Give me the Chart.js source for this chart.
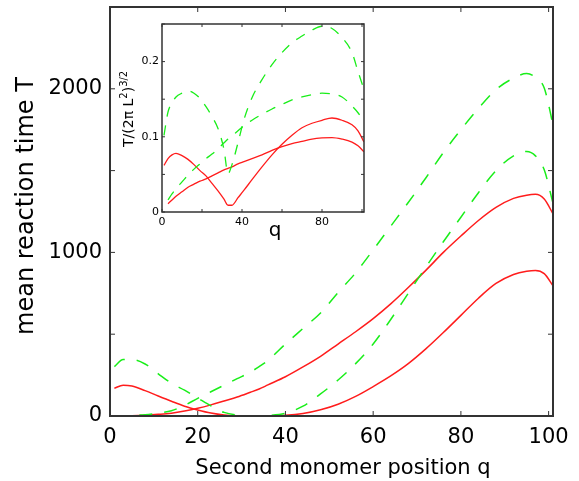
<!DOCTYPE html>
<html>
<head>
<meta charset="utf-8">
<script src="https://cdn.jsdelivr.net/npm/chart.js@4.4.1/dist/chart.umd.min.js"></script>
<style>
  html, body { margin: 0; padding: 0; background: #fff; }
  #wrap { position: relative; width: 579px; height: 481px; }
  #main { position: absolute; left: 0; top: 0; }
  #inset { position: absolute; left: 115px; top: 10px; }
</style>
</head>
<body>
<div id="wrap">
  <canvas id="main" width="579" height="481"></canvas>
  <canvas id="inset" width="260" height="235"></canvas>
</div>
<script>
// main panel: mean reaction time T against second monomer position q
const qMain = [1, 3, 5, 8, 11, 14, 17, 20, 23, 26, 29, 32, 34, 36, 40, 44,
  48, 52, 56, 60, 64, 68, 72, 76, 80, 84, 88, 92, 95, 97, 99, 101];
const redCuspMain = [170, 188, 183, 155, 122, 90, 60, 37, 18, 6, 1, 0, 0, 1, 4, 15,
  38, 72, 120, 180, 245, 320, 410, 510, 615, 720, 810, 865, 885, 890, 870, 796];
const redRiseMain = [0, 1, 2, 5, 10, 17, 30, 47, 68, 92, 116, 145, 165, 190, 240, 300,
  365, 440, 515, 595, 685, 785, 890, 1000, 1100, 1195, 1275, 1330, 1350, 1355, 1326, 1236];
const greenCuspMain = [302, 345, 345, 318, 258, 200, 158, 110, 62, 22, 5, 0, 0, 3, 17, 60,
  135, 220, 320, 440, 590, 750, 910, 1065, 1215, 1365, 1500, 1590, 1617, 1590, 1505, 1300];
const greenRiseMain = [0, 1, 3, 8, 18, 32, 65, 108, 148, 188, 228, 268, 302, 340, 440, 535,
  630, 755, 875, 1015, 1160, 1305, 1455, 1610, 1750, 1880, 1995, 2065, 2093, 2070, 2005, 1781];

const xTicks = [0, 20, 40, 60, 80, 100];
const yTicks = [0, 1000, 2000];
const yMarks = [0, 500, 1000, 1500, 2000, 2500];

// inset: T / (2π L²)^(3/2)
const qInset = [1, 3, 5, 7, 10, 13, 16, 19, 22, 25, 28, 31, 33, 35, 38, 41, 45,
  50, 55, 60, 65, 70, 75, 80, 85, 90, 95, 98, 101];
const redCuspInset = [0.062, 0.071, 0.076, 0.078, 0.075, 0.070, 0.063, 0.055, 0.048, 0.038,
  0.028, 0.017, 0.009, 0.009, 0.019, 0.029, 0.043, 0.060, 0.076, 0.090, 0.102, 0.112,
  0.118, 0.122, 0.125, 0.122, 0.116, 0.108, 0.093];
const redRiseInset = [null, 0.011, 0.016, 0.021, 0.027, 0.033, 0.037, 0.041, 0.044, 0.048,
  0.052, 0.056, 0.058, 0.060, 0.064, 0.067, 0.071, 0.076, 0.082, 0.087, 0.091, 0.094,
  0.097, 0.0985, 0.099, 0.097, 0.093, 0.088, 0.080];
const greenCuspInset = [0.102, 0.133, 0.145, 0.153, 0.158, 0.161, 0.158, 0.151, 0.140, 0.127,
  0.111, 0.083, 0.051, 0.063, 0.092, 0.123, 0.152, 0.176, 0.196, 0.212, 0.225, 0.234,
  0.242, 0.247, 0.244, 0.232, 0.212, 0.187, 0.163];
const greenRiseInset = [null, 0.016, 0.024, 0.031, 0.040, 0.049, 0.057, 0.064, 0.071, 0.077,
  0.084, 0.092, 0.097, 0.101, 0.108, 0.115, 0.122, 0.130, 0.137, 0.143, 0.149, 0.153,
  0.156, 0.158, 0.157, 0.153, 0.141, 0.132, 0.120];

const insetXTicks = [0, 40, 80];
const insetXMarks = [0, 20, 40, 60, 80, 100];
const insetYTicks = [0, 0.1, 0.2];
const insetYMarks = [0, 0.05, 0.1, 0.15, 0.2, 0.25];

const RED = 'rgb(255, 28, 28)';
const GREEN = 'rgb(25, 238, 25)';

Chart.defaults.font.family = 'DejaVu Sans';
Chart.defaults.color = '#000';

const points = (xs, ys) => xs.map((x, i) => ({ x, y: ys[i] }));

// draw a text label made of normal and superscript pieces
const drawLabel = function drawLabelParts(ctx, lab) {
  ctx.save();
  ctx.translate(lab.x, lab.y);
  if (lab.rotate) ctx.rotate(-Math.PI / 2);
  ctx.fillStyle = '#000';
  ctx.textBaseline = 'alphabetic';
  ctx.textAlign = 'left';
  const fontOf = (p) => `${p.sup ? lab.supSize : lab.size}px "DejaVu Sans"`;
  let total = 0;
  lab.parts.forEach((p) => {
    ctx.font = fontOf(p);
    total += ctx.measureText(p.text).width;
  });
  let cursor = lab.align === 'center' ? -total / 2 : 0;
  lab.parts.forEach((p) => {
    ctx.font = fontOf(p);
    ctx.fillText(p.text, cursor, p.sup ? -lab.raise : 0);
    cursor += ctx.measureText(p.text).width;
  });
  ctx.restore();
};

// inward tick marks on all four sides, a closed frame and the axis titles
const frame = {
  id: 'frame',
  afterDraw(chart, args, o) {
    const { ctx, chartArea: a } = chart;
    const { x, y } = chart.scales;
    ctx.save();
    ctx.strokeStyle = '#333';
    ctx.lineWidth = 1;
    ctx.beginPath();
    o.xMarks.forEach((v) => {
      const px = x.getPixelForValue(v);
      ctx.moveTo(px, a.bottom);
      ctx.lineTo(px, a.bottom - o.tickLen);
      ctx.moveTo(px, a.top);
      ctx.lineTo(px, a.top + o.tickLen);
    });
    o.yMarks.forEach((v) => {
      const py = y.getPixelForValue(v);
      ctx.moveTo(a.left, py);
      ctx.lineTo(a.left + o.tickLen, py);
      ctx.moveTo(a.right, py);
      ctx.lineTo(a.right - o.tickLen, py);
    });
    ctx.stroke();
    ctx.lineWidth = o.borderWidth;
    ctx.strokeRect(a.left, a.top, a.right - a.left, a.bottom - a.top);
    ctx.restore();
    o.labels.forEach((lab) => drawLabel(ctx, lab));
  },
};

const lineSet = (data, color, dashed, width) => ({
  data,
  borderColor: color,
  borderWidth: width,
  borderDash: dashed ? dashed : [],
  pointRadius: 0,
  fill: false,
  cubicInterpolationMode: 'monotone',
  spanGaps: false,
});

// fixed axis box sizes so the plot area lands where the reference has it
const scaleSet = (min, max, ticks, size, padding, fit) => ({
  type: 'linear',
  min,
  max,
  afterBuildTicks: (s) => { s.ticks = ticks.map((v) => ({ value: v })); },
  afterFit: (s) => {
    fit(s);
    s.paddingTop = 0;
    s.paddingBottom = 0;
    s.paddingLeft = 0;
    s.paddingRight = 0;
  },
  grid: { display: false, drawTicks: false },
  border: { display: false },
  ticks: {
    color: '#000',
    font: { size },
    padding,
    maxRotation: 0,
    autoSkip: false,
    callback: (v) => String(v),
  },
});

new Chart(document.getElementById('main'), {
  type: 'line',
  data: {
    datasets: [
      lineSet(points(qMain, greenRiseMain), GREEN, [13, 12], 1.5),
      lineSet(points(qMain, greenCuspMain), GREEN, [13, 12], 1.5),
      lineSet(points(qMain, redRiseMain), RED, null, 1.5),
      lineSet(points(qMain, redCuspMain), RED, null, 1.5),
    ],
  },
  options: {
    responsive: false,
    animation: false,
    events: [],
    layout: { padding: { top: 7, right: 26, bottom: 0, left: 0 } },
    scales: {
      x: scaleSet(0, 101, xTicks, 21, 9, (s) => { s.height = 65; }),
      y: scaleSet(0, 2500, yTicks, 21, 8, (s) => { s.width = 110; }),
    },
    plugins: {
      legend: { display: false },
      tooltip: { enabled: false },
      frame: {
        xMarks: xTicks,
        yMarks,
        tickLen: 5,
        borderWidth: 2,
        labels: [
          { parts: [{ text: 'Second monomer position q' }], x: 343, y: 474, size: 21, align: 'center' },
          { parts: [{ text: 'mean reaction time T' }], x: 33, y: 206, size: 24, align: 'center', rotate: true },
        ],
      },
    },
  },
  plugins: [frame],
});

new Chart(document.getElementById('inset'), {
  type: 'line',
  data: {
    datasets: [
      lineSet(points(qInset, greenCuspInset), GREEN, [10, 9], 1.3),
      lineSet(points(qInset, greenRiseInset), GREEN, [10, 9], 1.3),
      lineSet(points(qInset, redCuspInset), RED, null, 1.3),
      lineSet(points(qInset, redRiseInset), RED, null, 1.3),
    ],
  },
  options: {
    responsive: false,
    animation: false,
    events: [],
    layout: { padding: { top: 14, right: 11, bottom: 0, left: 0 } },
    scales: {
      x: scaleSet(0, 101, insetXTicks, 11, 4, (s) => { s.height = 33; }),
      y: scaleSet(0, 0.25, insetYTicks, 11, 3, (s) => { s.width = 47; }),
    },
    plugins: {
      legend: { display: false },
      tooltip: { enabled: false },
      frame: {
        xMarks: insetXMarks,
        yMarks: insetYMarks,
        tickLen: 3,
        borderWidth: 1.5,
        labels: [
          { parts: [{ text: 'q' }], x: 160, y: 226, size: 20, align: 'center' },
          {
            parts: [
              { text: 'T/(2π L' },
              { text: '2', sup: true },
              { text: ')' },
              { text: '3/2', sup: true },
            ],
            x: 18,
            y: 137,
            size: 14,
            supSize: 10,
            raise: 6,
            align: 'left',
            rotate: true,
          },
        ],
      },
    },
  },
  plugins: [frame],
});
</script>
</body>
</html>
